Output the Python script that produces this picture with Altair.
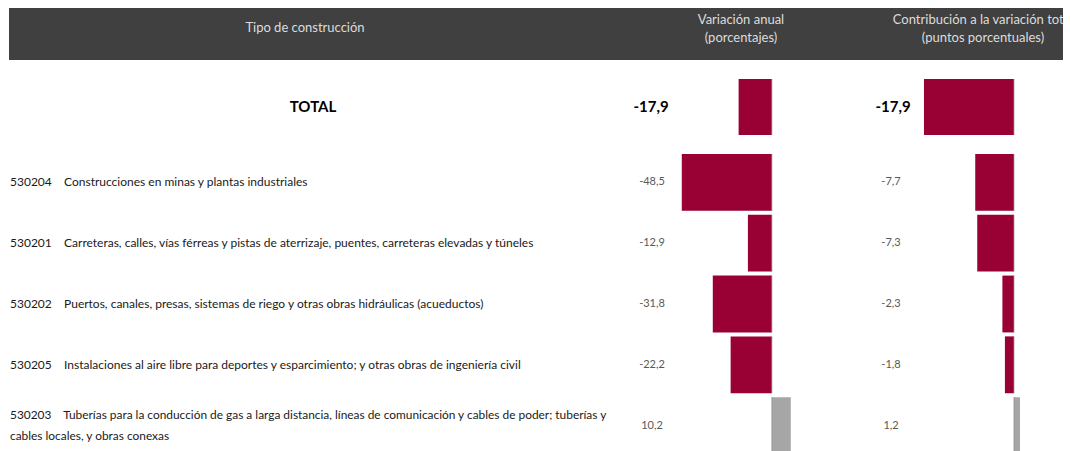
import altair as alt
import pandas as pd

title_text = "Segundo trimestre 2023 vs. Primer trimestre 2022."
header_tipo = "Tipo de construcción"
header_var = "Variación anual\n(porcentajes)"
header_con = "Contribución a la variación total\n(puntos porcentuales)"

codes = ["530204", "530201", "530202", "530205", "530203"]
names = [
    "Construcciones en minas y plantas industriales",
    "Carreteras, calles, vías férreas y pistas de aterrizaje, puentes, carreteras elevadas y túneles",
    "Puertos, canales, presas, sistemas de riego y otras obras hidráulicas (acueductos)",
    "Instalaciones al aire libre para deportes y esparcimiento; y otras obras de ingeniería civil",
    "Tuberías para la conducción de gas a larga distancia, líneas de comunicación y cables de poder; tuberías y\ncables locales, y obras conexas",
]
var_anual = [-48.5, -12.9, -31.8, -22.2, 10.2]
contrib = [-7.7, -7.3, -2.3, -1.8, 1.2]

total_label = ["TOTAL"]
total_var = [-17.9]
total_contrib = [-17.9]


def fmt(v):
    return f"{v:.1f}".replace(".", ",")


rows = pd.DataFrame({
    "code": codes,
    "label": [c + "\u00a0\u00a0\u00a0\u00a0" + n for c, n in zip(codes, names)],
    "var": var_anual,
    "con": contrib,
    "var_txt": [fmt(v) for v in var_anual],
    "con_txt": [fmt(v) for v in contrib],
})
tot = pd.DataFrame({
    "code": total_label,
    "var": total_var,
    "con": total_contrib,
    "var_txt": [fmt(v) for v in total_var],
    "con_txt": [fmt(v) for v in total_contrib],
})
one = pd.DataFrame({"k": [0]})

FONT = "Lato"
RED = "#990033"
GREY = "#A6A6A6"
HDR = "#dcdcdc"
EDGE = "#8c8c8c"

var_scale = alt.Scale(domain=[-50, 20], range=[671, 801], nice=False, zero=False)
con_scale = alt.Scale(domain=[-20, 5], range=[905.4, 1031.1], nice=False, zero=False)
row_scale = alt.Scale(domain=codes, range=[144, 448], paddingInner=0.065, paddingOuter=0.0325)
tot_scale = alt.Scale(domain=total_label, range=[71, 127], paddingInner=0, paddingOuter=0)

# title (only its lower part shows above the header in the reference)
title = alt.Chart(one).mark_text(font="Liberation Sans", fontSize=26, align="left",
                                  baseline="alphabetic", color="#000000").encode(
    x=alt.value(12), y=alt.value(-1), text=alt.value(title_text))

header_bg = alt.Chart(one).mark_rect(color="#404040").encode(
    x=alt.value(1), x2=alt.value(1063), y=alt.value(0), y2=alt.value(52))

h1 = alt.Chart(one).mark_text(font=FONT, fontSize=13, color=HDR, align="center",
                              baseline="middle").encode(
    x=alt.value(297), y=alt.value(20), text=alt.value(header_tipo))
h2 = alt.Chart(one).mark_text(font=FONT, fontSize=13, color=HDR, align="center",
                              baseline="middle", lineBreak="\n", lineHeight=18).encode(
    x=alt.value(733), y=alt.value(12), text=alt.value(header_var))
h3 = alt.Chart(one).mark_text(font=FONT, fontSize=13, color=HDR, align="center",
                              baseline="middle", lineBreak="\n", lineHeight=18).encode(
    x=alt.value(975), y=alt.value(12), text=alt.value(header_con))

# detail rows
yrow = alt.Y("code:N", scale=row_scale, axis=None, sort=None)
label_base = alt.Chart(rows).transform_calculate(
    multi="indexof(datum.label, '\\n') >= 0")
row_label1 = label_base.transform_filter("!datum.multi").mark_text(
    font=FONT, fontSize=12, color="#1a1a1a", align="left", baseline="middle").encode(
    x=alt.value(2), y=yrow, text="label:N")
row_label2 = label_base.transform_filter("datum.multi").mark_text(
    font=FONT, fontSize=11.9, color="#1a1a1a", align="left", baseline="middle",
    lineBreak="\n", lineHeight=21, dy=-10.5).encode(
    x=alt.value(2), y=yrow, text="label:N")
row_vtxt = alt.Chart(rows).mark_text(font=FONT, fontSize=11, color="#595959", align="center",
                                     baseline="middle").encode(
    x=alt.value(644), y=yrow, text="var_txt:N")
row_ctxt = alt.Chart(rows).mark_text(font=FONT, fontSize=11, color="#595959", align="center",
                                     baseline="middle").encode(
    x=alt.value(883), y=yrow, text="con_txt:N")
row_vbar = alt.Chart(rows).mark_bar().encode(
    x=alt.X("var:Q", scale=var_scale, axis=None), x2=alt.datum(0), y=yrow,
    color=alt.condition(alt.datum["var"] < 0, alt.value(RED), alt.value(GREY)))
row_cbar = alt.Chart(rows).mark_bar().encode(
    x=alt.X("con:Q", scale=con_scale, axis=None), x2=alt.datum(0), y=yrow,
    color=alt.condition(alt.datum["con"] < 0, alt.value(RED), alt.value(GREY)))
row_vedge = alt.Chart(rows).mark_tick(orient="vertical", thickness=1, size=57, color=EDGE).encode(
    x=alt.XDatum(0, scale=var_scale, axis=None), y=yrow)
row_cedge = alt.Chart(rows).mark_tick(orient="vertical", thickness=1, size=57, color=EDGE).encode(
    x=alt.XDatum(0, scale=con_scale, axis=None), y=yrow)
rows_layer = alt.layer(row_label1, row_label2, row_vtxt, row_ctxt, row_vbar,
                       row_cbar, row_vedge, row_cedge).resolve_scale(x="independent")

# total row
ytot = alt.Y("code:N", scale=tot_scale, axis=None, sort=None)
tot_label = alt.Chart(tot).mark_text(font=FONT, fontSize=15, fontWeight="bold", color="#000000",
                                     align="center", baseline="middle").encode(
    x=alt.value(305), y=ytot, text="code:N")
tot_vtxt = alt.Chart(tot).mark_text(font=FONT, fontSize=15, fontWeight="bold", color="#000000",
                                    align="center", baseline="middle").encode(
    x=alt.value(643), y=ytot, text="var_txt:N")
tot_ctxt = alt.Chart(tot).mark_text(font=FONT, fontSize=15, fontWeight="bold", color="#000000",
                                    align="center", baseline="middle").encode(
    x=alt.value(885), y=ytot, text="con_txt:N")
tot_vbar = alt.Chart(tot).mark_bar(color=RED).encode(
    x=alt.X("var:Q", scale=var_scale, axis=None), x2=alt.datum(0), y=ytot)
tot_cbar = alt.Chart(tot).mark_bar(color=RED).encode(
    x=alt.X("con:Q", scale=con_scale, axis=None), x2=alt.datum(0), y=ytot)
tot_vedge = alt.Chart(tot).mark_tick(orient="vertical", thickness=1, size=56, color=EDGE).encode(
    x=alt.XDatum(0, scale=var_scale, axis=None), y=ytot)
tot_cedge = alt.Chart(tot).mark_tick(orient="vertical", thickness=1, size=56, color=EDGE).encode(
    x=alt.XDatum(0, scale=con_scale, axis=None), y=ytot)
tot_layer = alt.layer(tot_label, tot_vtxt, tot_ctxt, tot_vbar, tot_cbar,
                      tot_vedge, tot_cedge).resolve_scale(x="independent")

chart = alt.layer(
    title, header_bg, h1, h2, h3, tot_layer, rows_layer
).resolve_scale(x="independent", y="independent").properties(
    width=1055, height=443, autosize=alt.AutoSizeParams(type="none"), padding=0
).configure_view(strokeWidth=0)

chart.save("out.html", embed_options={"renderer": "svg", "actions": False})
